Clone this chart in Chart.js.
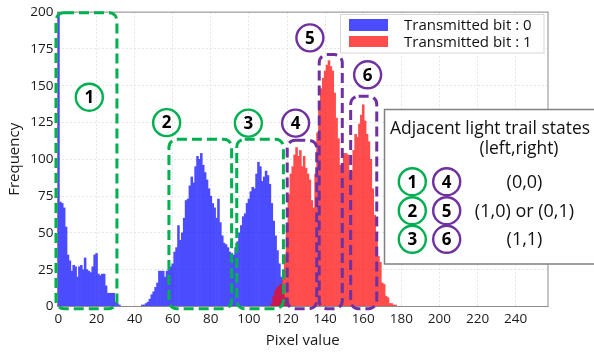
<!DOCTYPE html>
<html><head><meta charset="utf-8">
<script src="https://cdn.jsdelivr.net/npm/chart.js@4.4.1/dist/chart.umd.min.js"></script>
<style>html,body{margin:0;padding:0;background:#fff}#wrap{width:594px;height:354px;position:relative}</style>
</head><body><div id="wrap"><canvas id="c"></canvas></div>
<script>
const xTicks = [0,20,40,60,80,100,120,140,160,180,200,220,240];
const yTicks = [0,25,50,75,100,125,150,175,200];
const seriesNames = ['Transmitted bit : 0','Transmitted bit : 1'];
const xTitle = 'Pixel value';
const yTitle = 'Frequency';
// bit 0 histogram, pixel values 0..121
const blueStart = 0;
const blueCounts = [215,71,70,67,54,35,31,24,28,27,20,27,28,25,33,25,24,23,27,35,36,22,21,22,22,14,9,9,9,9,3,2,1,
0,0,0,0,0,0,0,0,0,0,0,
1,1,2,3,5,8,10,13,16,24,24,24,20,24,25,27,29,37,40,55,45,50,60,72,73,82,88,84,95,102,100,104,
96,91,86,80,75,70,67,60,73,57,48,43,42,40,37,36,35,40,44,50,55,61,63,70,73,78,81,80,90,98,95,85,88,92,89,83,70,58,48,38,29,20,12,6,2,1];
// bit 1 histogram, pixel values 112..177
const redStart = 112;
const redCounts = [2,7,11,13,14,15,22,35,55,76,90,95,103,108,102,106,95,102,94,90,86,72,67,90,118,137,148,155,160,164,167,163,160,145,128,114,96,92,104,104,103,90,92,106,117,115,124,130,137,126,117,112,100,80,62,45,34,30,16,15,7,6,2,2,1,1];
// annotation regions (pixel value / frequency units)
const greenRegions = [[-1.3,30.7,199.5],[58,90.9,113.6],[93.6,118.1,113.6]];
const purpleRegions = [[120.1,135.6,112.9],[136.9,149,171.2],[153.4,167.1,142.9]];
const regionBottom = -1.5;
const markers = [['1',16.2,142.2,'g'],['2',56.8,124.9,'g'],['3',99.7,124.6,'g'],['4',124.5,124.6,'p'],['5',132.0,182.5,'p'],['6',162.3,157.4,'p']];
const boxTitle = ['Adjacent light trail states','(left,right)'];
const stateRows = [['1','4','(0,0)'],['2','5','(1,0) or (0,1)'],['3','6','(1,1)']];

const GREEN = '#00b050', PURPLE = '#7030a0';
const FONT = '"Open Sans", "Noto Sans", sans-serif';

function pts(start, arr){ return arr.map((v,i)=>({x:start+i, y:v})); }

const layerPlugin = {
  id:'layer',
  beforeDatasetDraw(chart, args){
    const c = chart.canvas;
    const off = document.createElement('canvas');
    off.width = c.width; off.height = c.height;
    const octx = off.getContext('2d');
    octx.setTransform(chart.ctx.getTransform());
    args.meta.controller._ctx = octx;
    chart.$off = off;
  },
  afterDatasetDraw(chart, args){
    args.meta.controller._ctx = chart.ctx;
    const a = chart.chartArea, ctx = chart.ctx;
    ctx.save();
    ctx.setTransform(1,0,0,1,0,0);
    ctx.beginPath(); ctx.rect(a.left, a.top, a.right-a.left, a.bottom-a.top); ctx.clip();
    ctx.globalAlpha = 0.7;
    ctx.drawImage(chart.$off, 0, 0);
    ctx.restore();
  }
};

function rrect(ctx,x0,y0,x1,y1,r){
  ctx.beginPath();
  ctx.moveTo(x0+r,y0);
  ctx.lineTo(x1-r,y0); ctx.arcTo(x1,y0,x1,y0+r,r);
  ctx.lineTo(x1,y1-r); ctx.arcTo(x1,y1,x1-r,y1,r);
  ctx.lineTo(x0+r,y1); ctx.arcTo(x0,y1,x0,y1-r,r);
  ctx.lineTo(x0,y0+r); ctx.arcTo(x0,y0,x0+r,y0,r);
  ctx.closePath();
}
function circ(ctx,cx,cy,col,num){
  ctx.save();
  ctx.beginPath(); ctx.arc(cx,cy,13.5,0,Math.PI*2);
  ctx.lineWidth = 2.4; ctx.strokeStyle = col; ctx.setLineDash([]); ctx.stroke();
  ctx.fillStyle = '#000'; ctx.font = 'bold 17px '+FONT; ctx.textAlign='center'; ctx.textBaseline='middle';
  ctx.fillText(num, cx, cy+1);
  ctx.restore();
}

const annoPlugin = {
  id:'anno',
  afterDraw(chart){
    const ctx = chart.ctx, a = chart.chartArea, xs = chart.scales.x, ys = chart.scales.y;
    ctx.save();
    ctx.strokeStyle = '#8c8c8c'; ctx.lineWidth = 1;
    ctx.strokeRect(a.left, a.top, a.right-a.left, a.bottom-a.top);
    ctx.restore();
    ctx.save();
    ctx.fillStyle = '#fff'; ctx.fillRect(340.5,14.5,203.5,38.5);
    ctx.strokeStyle = '#d6d6d6'; ctx.lineWidth = 1; ctx.strokeRect(340.5,14.5,203.5,38.5);
    ctx.fillStyle = 'rgba(0,0,255,0.7)'; ctx.fillRect(349,19,39,12);
    ctx.fillStyle = 'rgba(255,0,0,0.7)'; ctx.fillRect(349,36,39,11);
    ctx.fillStyle = '#111'; ctx.font = '15px '+FONT; ctx.textAlign='left'; ctx.textBaseline='alphabetic';
    ctx.fillText(seriesNames[0], 404, 30);
    ctx.fillText(seriesNames[1], 404, 46.5);
    ctx.restore();
    ctx.save();
    ctx.lineWidth = 3; ctx.setLineDash([10,5]);
    const yb = ys.getPixelForValue(regionBottom);
    ctx.strokeStyle = GREEN;
    greenRegions.forEach(r=>{ rrect(ctx, xs.getPixelForValue(r[0]), ys.getPixelForValue(r[2]), xs.getPixelForValue(r[1]), yb, 8); ctx.stroke(); });
    ctx.strokeStyle = PURPLE;
    purpleRegions.forEach(r=>{ rrect(ctx, xs.getPixelForValue(r[0]), ys.getPixelForValue(r[2]), xs.getPixelForValue(r[1]), yb, 8); ctx.stroke(); });
    ctx.restore();
    markers.forEach(m=> circ(ctx, xs.getPixelForValue(m[1]), ys.getPixelForValue(m[2]), m[3]==='g'?GREEN:PURPLE, m[0]));
    ctx.save();
    ctx.fillStyle = '#fff'; ctx.fillRect(384.5,109.5,220,154.5);
    ctx.strokeStyle = '#808080'; ctx.lineWidth = 1.5; ctx.strokeRect(384.5,109.5,220,154.5);
    ctx.fillStyle = '#111'; ctx.textBaseline='alphabetic';
    ctx.font = '17px '+FONT;
    let w = ctx.measureText(boxTitle[0]).width;
    const fs = 17*200/w;
    ctx.font = fs.toFixed(2)+'px '+FONT;
    ctx.textAlign='left';
    ctx.fillText(boxTitle[0], 390, 133.5);
    ctx.textAlign='center';
    ctx.fillText(boxTitle[1], 519, 154);
    ctx.restore();
    const rowY = [181.7,210.7,239.3];
    stateRows.forEach((r,i)=>{
      circ(ctx, 412.3, rowY[i], GREEN, r[0]);
      circ(ctx, 446.7, rowY[i], PURPLE, r[1]);
      ctx.save();
      ctx.fillStyle='#111'; ctx.font = '18px '+FONT; ctx.textAlign='center'; ctx.textBaseline='middle';
      ctx.fillText(r[2], 524.5, rowY[i]+1);
      ctx.restore();
    });
  }
};

Chart.defaults.font.family = FONT;
Chart.defaults.color = '#1a1a1a';

new Chart(document.getElementById('c'), {
  type:'bar',
  data:{
    datasets:[
      {label:seriesNames[0], data:pts(blueStart,blueCounts), backgroundColor:'#0000ff', borderWidth:0, grouped:false, barPercentage:1, categoryPercentage:1, order:2},
      {label:seriesNames[1], data:pts(redStart,redCounts), backgroundColor:'#ff0000', borderWidth:0, grouped:false, barPercentage:1, categoryPercentage:1, order:1}
    ]
  },
  options:{
    responsive:true, maintainAspectRatio:false, animation:false,
    layout:{padding:{top:11,right:46,left:0,bottom:0}},
    plugins:{legend:{display:false}, tooltip:{enabled:false}},
    scales:{
      x:{type:'linear', min:-0.5, max:257, offset:false,
        afterBuildTicks(s){ s.ticks = xTicks.map(v=>({value:v})); },
        afterFit(s){ s.height = 47.5; },
        grid:{color:'#e6e6e6', drawTicks:false, lineWidth:1, offset:false},
        border:{display:false, dash:[2,2]},
        ticks:{padding:5, font:{size:13.5}, maxRotation:0, autoSkip:false},
        title:{display:true, text:xTitle, font:{size:15}, padding:{top:0,bottom:4}}
      },
      y:{min:0, max:200,
        afterBuildTicks(s){ s.ticks = yTicks.map(v=>({value:v})); },
        afterFit(s){ s.width = 57.5; },
        grid:{color:'#e6e6e6', drawTicks:false, lineWidth:1},
        border:{display:false, dash:[2,2]},
        ticks:{padding:4, font:{size:13.5}, autoSkip:false},
        title:{display:true, text:yTitle, font:{size:15}, padding:{top:6,bottom:0}}
      }
    }
  },
  plugins:[layerPlugin, annoPlugin]
});
</script></body></html>
